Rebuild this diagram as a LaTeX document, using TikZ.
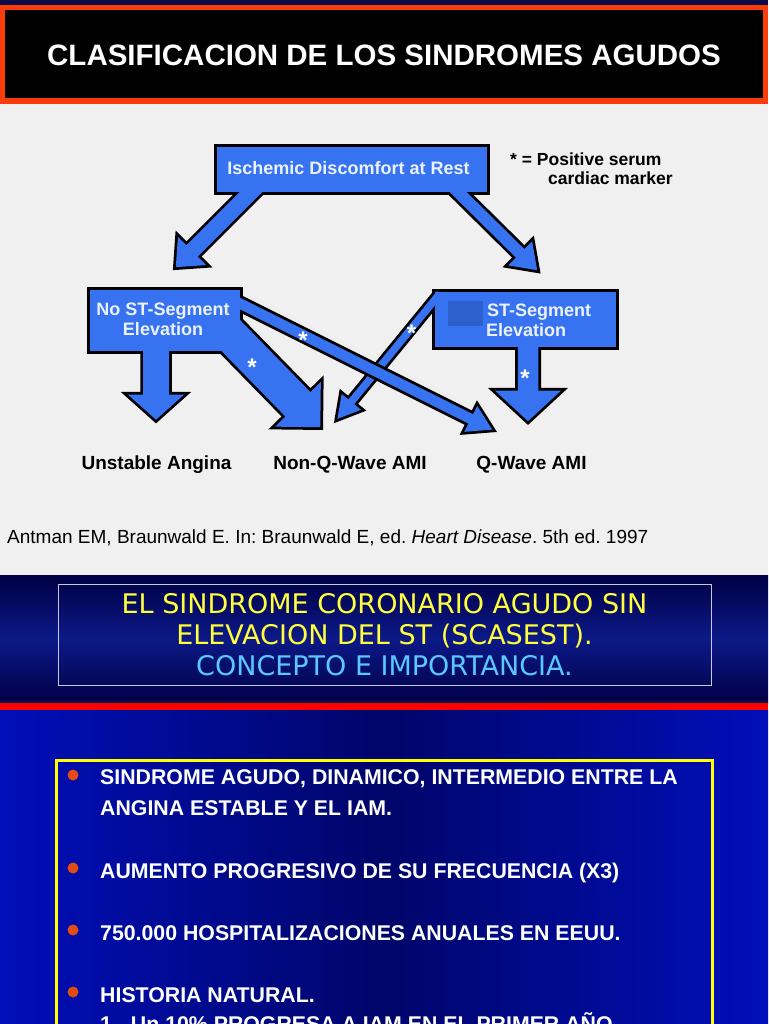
\documentclass[tikz,border=0pt]{standalone}
\usepackage{fontspec}
\setmainfont{Liberation Sans}
\newfontfamily\bannerfont{DejaVu Sans}
\usetikzlibrary{calc}
\frenchspacing

\definecolor{navystrip}{RGB}{10,10,70}
\definecolor{titlered}{RGB}{250,60,10}
\definecolor{slidegray}{RGB}{240,240,240}
\definecolor{boxblue}{RGB}{55,115,240}
\definecolor{glitchblue}{RGB}{45,95,205}
\definecolor{textwhite}{RGB}{235,242,255}
\definecolor{navydark}{RGB}{0,0,70}
\definecolor{navymid}{RGB}{12,25,135}
\definecolor{slideblue}{RGB}{0,15,185}
\definecolor{slidenavy}{RGB}{0,5,105}
\definecolor{bannerred}{RGB}{255,0,0}
\definecolor{boxyellow}{RGB}{255,255,0}
\definecolor{textyellow}{RGB}{255,255,60}
\definecolor{textcyan}{RGB}{90,200,255}
\definecolor{bulletred}{RGB}{225,75,20}
\definecolor{framegray}{RGB}{200,200,220}

% fat arrow: start, tip, shaft half width, head half width, head length
\newcommand{\arrowshape}[5]{($(#1)!#3!90:(#2)$) -- ($(#2)!#5!(#1)!#3!-90:(#1)$)
  -- ($(#2)!#5!(#1)!#4!-90:(#1)$) -- (#2) -- ($(#2)!#5!(#1)!#4!90:(#1)$)
  -- ($(#2)!#5!(#1)!#3!90:(#1)$) -- ($(#1)!#3!-90:(#2)$)}

\begin{document}
\begin{tikzpicture}[x=1pt,y=-1pt,
    outline/.style={draw=black,line width=5.5pt,line join=miter},
    bluefill/.style={fill=boxblue},
    boxtext/.style={text=textwhite,font=\bfseries\fontsize{18}{20}\selectfont,inner sep=0pt},
    outcome/.style={text=black,font=\bfseries\fontsize{19}{20}\selectfont,inner sep=0pt,anchor=base},
    asterisk/.style={text=white,font=\bfseries\fontsize{24}{24}\selectfont,inner sep=0pt},
    bullettext/.style={text=white,font=\bfseries\fontsize{21.3}{24}\selectfont,anchor=base west,inner sep=0pt}]

  \useasboundingbox (0,0) rectangle (768,1024);
  \clip (0,0) rectangle (768,1024);

  % first slide
  \fill[navystrip] (0,0) rectangle (768,5);
  \fill[titlered] (0,5) rectangle (768,104);
  \fill[black] (5,10) rectangle (763,98);
  \fill[slidegray] (0,104) rectangle (768,575);
  \node[text=white,font=\bfseries\fontsize{29.5}{30}\selectfont] (title) at (384,55)
    {CLASIFICACION DE LOS SINDROMES AGUDOS};

  \coordinate (a1s) at (260,183);     \coordinate (a1t) at (175.8,267.2);
  \coordinate (a2s) at (450,184);     \coordinate (a2t) at (537.2,270.2);
  \coordinate (a3s) at (156,330);     \coordinate (a3t) at (156,419.7);
  \coordinate (a4s) at (201.5,305.6); \coordinate (a4t) at (320.3,427.2);
  \coordinate (a5s) at (233,300);     \coordinate (a5t) at (492.2,429.6);
  \coordinate (a6s) at (439.9,293.5); \coordinate (a6t) at (337.4,418.9);
  \coordinate (a7s) at (528,320);     \coordinate (a7t) at (528,421.2);

  % black borders first, blue on top
  \draw[outline] (216.75,146.75) rectangle (487.25,192.25);
  \draw[outline] (89.75,289.75) rectangle (240.25,351.25);
  \draw[outline] (434.75,291.75) rectangle (616.25,347.25);
  \draw[outline] \arrowshape{a1s}{a1t}{8pt}{20pt}{23pt};
  \draw[outline] \arrowshape{a2s}{a2t}{6pt}{17pt}{24pt};
  \draw[outline] \arrowshape{a3s}{a3t}{13pt}{28pt}{25pt};
  \draw[outline] \arrowshape{a4s}{a4t}{17.5pt}{32pt}{32pt};
  \draw[outline] \arrowshape{a6s}{a6t}{3.75pt}{12.5pt}{22pt};
  \draw[outline] \arrowshape{a7s}{a7t}{10.25pt}{33pt}{30.5pt};

  \fill[bluefill] (216.75,146.75) rectangle (487.25,192.25);
  \fill[bluefill] (89.75,289.75) rectangle (240.25,351.25);
  \fill[bluefill] (434.75,291.75) rectangle (616.25,347.25);
  \fill[bluefill] \arrowshape{a1s}{a1t}{8pt}{20pt}{23pt};
  \fill[bluefill] \arrowshape{a2s}{a2t}{6pt}{17pt}{24pt};
  \fill[bluefill] \arrowshape{a3s}{a3t}{13pt}{28pt}{25pt};
  \fill[bluefill] \arrowshape{a4s}{a4t}{17.5pt}{32pt}{32pt};
  \fill[bluefill] \arrowshape{a6s}{a6t}{3.75pt}{12.5pt}{22pt};
  \fill[bluefill] \arrowshape{a7s}{a7t}{10.25pt}{33pt}{30.5pt};

  % long arrow crosses over
  \draw[outline] \arrowshape{a5s}{a5t}{5.25pt}{14.5pt}{24pt};
  \fill[bluefill] (89.75,289.75) rectangle (240.25,351.25);
  \fill[bluefill] \arrowshape{a5s}{a5t}{5.25pt}{14.5pt}{24pt};

  \fill[glitchblue] (448,301) rectangle (483,326);

  \node[boxtext,anchor=base] (rest) at (348.5,175) {Ischemic Discomfort at Rest};
  \node[boxtext,anchor=base] (nost) at (163,315) {No ST-Segment};
  \node[boxtext,anchor=base] (noste) at (163,335) {Elevation};
  \node[boxtext,anchor=base west] (st) at (487,316.5) {ST-Segment};
  \node[boxtext,anchor=base west] (ste) at (486,336.5) {Elevation};

  \node[asterisk] (s1) at (252,367) {*};
  \node[asterisk] (s2) at (303,340) {*};
  \node[asterisk] (s3) at (411.5,333.5) {*};
  \node[asterisk] (s4) at (525,378.5) {*};

  \node[outcome] (ua) at (156.5,469) {Unstable Angina};
  \node[outcome] (nqw) at (350,469) {Non-Q-Wave AMI};
  \node[outcome] (qw) at (531.5,469) {Q-Wave AMI};

  \node[text=black,font=\bfseries\fontsize{17.5}{20}\selectfont,anchor=base west,inner sep=0pt]
    (legend) at (510,166) {* = Positive serum};
  \node[text=black,font=\bfseries\fontsize{17.5}{20}\selectfont,anchor=base west,inner sep=0pt]
    (legendb) at (548,185) {cardiac marker};

  \node[text=black,font=\fontsize{19}{20}\selectfont,anchor=base west,inner sep=0pt] (cite) at (7,543)
    {Antman EM, Braunwald E. In: Braunwald E, ed. \textit{Heart Disease}. 5th ed. 1997};

  % second slide
  \shade[top color=navydark,bottom color=navydark,middle color=navymid] (0,575) rectangle (768,703);
  \node[draw=framegray,line width=1pt,minimum width=653pt,minimum height=101pt,inner sep=0pt,
    align=center,text=textyellow,font=\bannerfont\fontsize{27}{31}\selectfont] (banner) at (384.5,634.5)
    {EL SINDROME CORONARIO AGUDO SIN\\ELEVACION DEL ST (SCASEST).\\\textcolor{textcyan}{CONCEPTO E IMPORTANCIA.}};

  % third slide
  \fill[navystrip] (0,700) rectangle (768,703);
  \fill[bannerred] (0,703) rectangle (768,710);
  \shade[left color=slideblue,right color=slideblue,middle color=slidenavy] (0,710) rectangle (768,1024);
  \draw[boxyellow,line width=3pt] (56,760) rectangle (712,1040);

  \foreach \y in {775,868,930,992}
    \fill[bulletred] (73,\y) circle (5.5);

  \node[bullettext] (b1) at (100,784.5) {SINDROME AGUDO, DINAMICO, INTERMEDIO ENTRE LA};
  \node[bullettext] (b1b) at (100,815.5) {ANGINA ESTABLE Y EL IAM.};
  \node[bullettext] (b2) at (100,878.5) {AUMENTO PROGRESIVO DE SU FRECUENCIA (X3)};
  \node[bullettext] (b3) at (100,940.5) {750.000 HOSPITALIZACIONES ANUALES EN EEUU.};
  \node[bullettext] (b4) at (100,1002.5) {HISTORIA NATURAL.};
  \node[bullettext] (b5) at (100,1031) {1.- Un 10\% PROGRESA A IAM EN EL PRIMER AÑO.};
\end{tikzpicture}
\end{document}
